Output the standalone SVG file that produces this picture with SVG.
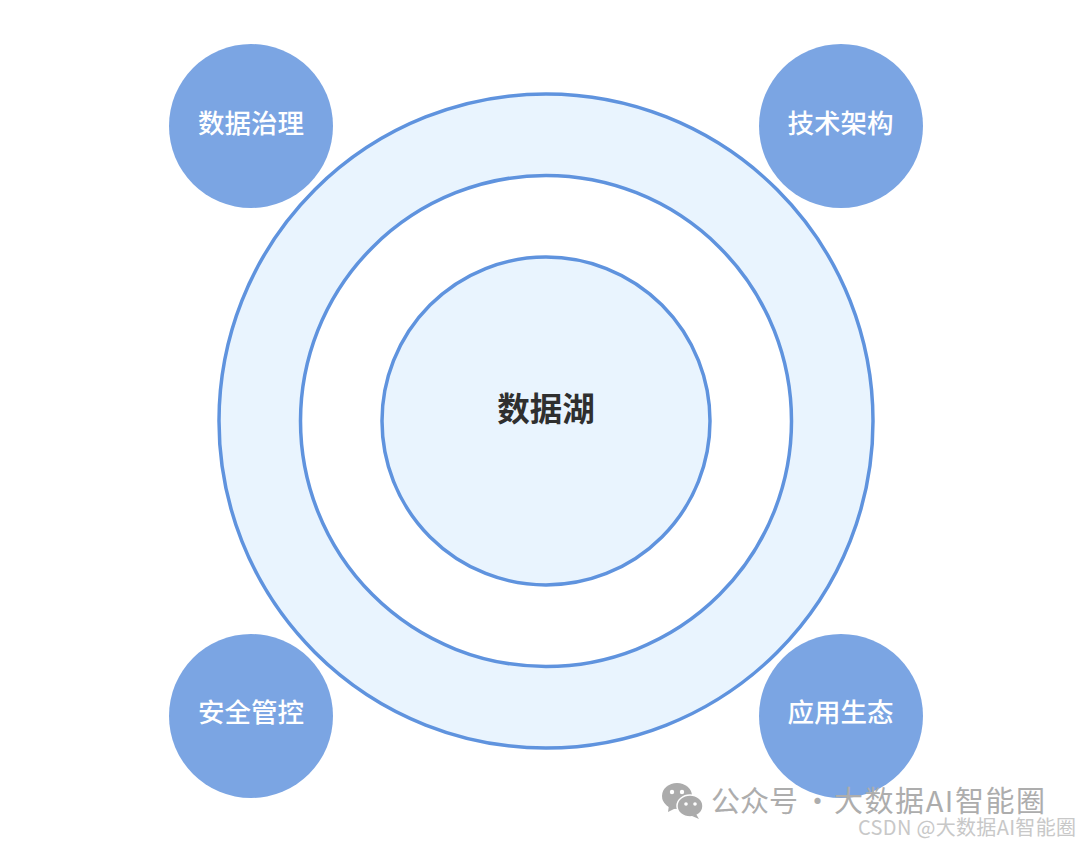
<svg xmlns="http://www.w3.org/2000/svg" width="1080" height="845" viewBox="0 0 1080 845">
<style>
text{font-family:"Noto Sans CJK SC","Liberation Sans",sans-serif;text-anchor:middle}
.ring{stroke:#5f93de;stroke-width:3.5}
.sat{fill:#7ba5e3}
.satl{fill:#fff;font-size:26.5px;font-weight:500}
.wm{fill:#adadad;font-size:29px;text-anchor:start}
</style>
<rect width="1080" height="845" fill="#fff"/>
<g id="connectors"/>
<g id="ring-outer"><circle class="ring" cx="546" cy="421" r="327" fill="#e9f4fe"/></g>
<g id="ring-middle"><circle class="ring" cx="546" cy="421" r="245.5" fill="#fff"/></g>
<g id="core"><circle class="ring" cx="546" cy="421" r="164" fill="#e9f4fe"/>
<text x="546" y="421" font-size="32.5" font-weight="700" fill="#2f2f2f">数据湖</text></g>
<g id="n1"><circle class="sat" cx="251" cy="126" r="82"/><text class="satl" x="251" y="133">数据治理</text></g>
<g id="n2"><circle class="sat" cx="841" cy="126" r="82"/><text class="satl" x="840.5" y="133">技术架构</text></g>
<g id="n3"><circle class="sat" cx="251" cy="716" r="82"/><text class="satl" x="251" y="722">安全管控</text></g>
<g id="n4"><circle class="sat" cx="841" cy="716" r="82"/><text class="satl" x="840.5" y="722">应用生态</text></g>
<g id="watermark">
<g fill="#ababab">
<ellipse cx="677" cy="796" rx="15" ry="13"/><path d="M669 805l-1 7 8-4z"/>
<ellipse cx="690" cy="806" rx="13" ry="11" stroke="#fff" stroke-width="1.5"/><path d="M696 814l3 5-7-3z"/>
</g>
<g fill="#fff"><circle cx="672" cy="792" r="2.2"/><circle cx="682" cy="792" r="2.2"/><circle cx="686" cy="804" r="1.8"/><circle cx="695" cy="804" r="1.8"/></g>
<text class="wm" x="711" y="812">公众号</text>
<text class="wm" x="803" y="812">·</text>
<text class="wm" x="834" y="812" textLength="211" lengthAdjust="spacing">大数据AI智能圈</text>
<text x="858" y="835" font-size="20" fill="#c8c8c8" style="text-anchor:start" textLength="218" lengthAdjust="spacing">CSDN @大数据AI智能圈</text>
</g>
</svg>
